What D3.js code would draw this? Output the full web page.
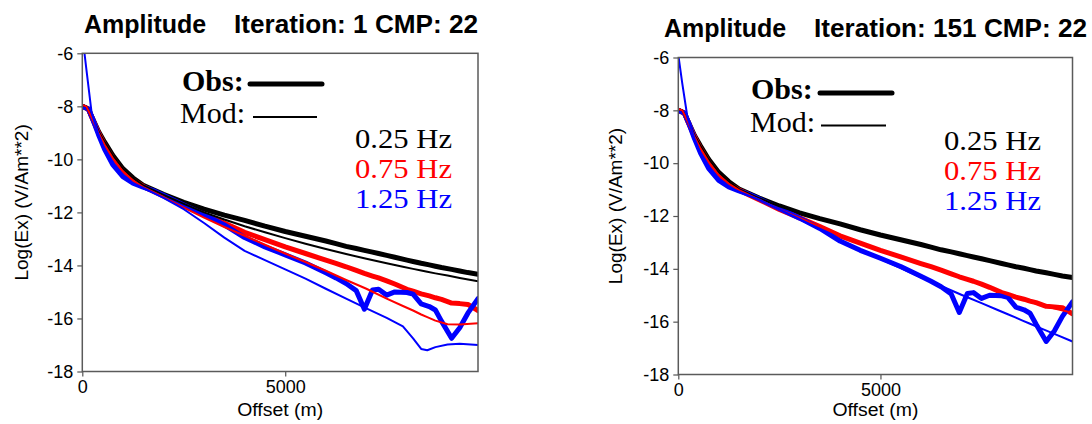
<!DOCTYPE html>
<html><head><meta charset="utf-8">
<script src="https://cdn.jsdelivr.net/npm/d3@7"></script>
<style>html,body{margin:0;padding:0;background:#fff;} svg{display:block;}</style>
</head><body><svg id="c" width="1092" height="424"></svg>
<script>
// ---------- data ----------
const freqLabels = ["0.25 Hz", "0.75 Hz", "1.25 Hz"];
const iterations = [1, 151];
const cmp = 22;
const yTicks = [-6, -8, -10, -12, -14, -16, -18];
const yTickLabels = ["-6", "-8", "-10", "-12", "-14", "-16", "-18"];
const xTicks = [0, 5000];
const xTickLabels = ["0", "5000"];
const xMax = 9750;

// observed (same data in both panels)
const obsOffsets = [0,150,250,400,550,750,1000,1250,1500,1750,2000,2500,3000,3500,4000,4500,5000,5500,6000,6250,6500,6750,6950,7150,7300,7500,7700,8000,8150,8350,8550,8700,8850,9100,9300,9500,9750];
const obs025 = [-8.0,-8.1,-8.45,-8.95,-9.35,-9.85,-10.35,-10.7,-10.98,-11.15,-11.32,-11.62,-11.88,-12.1,-12.3,-12.52,-12.72,-12.9,-13.08,-13.18,-13.28,-13.36,-13.43,-13.5,-13.55,-13.62,-13.69,-13.8,-13.85,-13.92,-13.98,-14.03,-14.08,-14.15,-14.21,-14.27,-14.33];
const obs075 = [-8.0,-8.1,-8.47,-9.0,-9.45,-9.95,-10.45,-10.78,-11.02,-11.2,-11.38,-11.75,-12.07,-12.4,-12.75,-13.03,-13.3,-13.55,-13.8,-13.92,-14.05,-14.19,-14.3,-14.4,-14.47,-14.58,-14.7,-14.9,-14.97,-15.07,-15.15,-15.22,-15.28,-15.42,-15.44,-15.47,-15.7];
const obs125 = [-8.0,-8.1,-8.45,-9.07,-9.62,-10.2,-10.65,-10.9,-11.05,-11.18,-11.35,-11.72,-12.08,-12.47,-12.95,-13.3,-13.6,-13.91,-14.28,-14.47,-14.68,-14.95,-15.65,-14.93,-14.9,-15.12,-15.0,-15.02,-15.08,-15.45,-15.55,-15.68,-16.1,-16.75,-16.35,-15.8,-15.25];

// modelled
const modOffsets = [0,100,230,400,550,750,1000,1250,1500,2000,2500,3000,3500,4000,4500,5000,5500,6000,6500,7000,7500,7900,8150,8350,8500,8700,9000,9300,9750];
const modIt1_025 = [-7.95,-8.0,-8.4,-8.95,-9.35,-9.85,-10.35,-10.7,-10.98,-11.34,-11.68,-12.0,-12.27,-12.52,-12.75,-12.97,-13.18,-13.38,-13.57,-13.75,-13.92,-14.05,-14.13,-14.19,-14.24,-14.3,-14.38,-14.47,-14.6];
const modIt1_075 = [-7.95,-8.0,-8.42,-9.0,-9.45,-9.95,-10.45,-10.8,-11.05,-11.42,-11.82,-12.2,-12.55,-12.88,-13.22,-13.55,-13.87,-14.2,-14.55,-14.88,-15.25,-15.53,-15.7,-15.85,-15.95,-16.08,-16.22,-16.23,-16.18];
const modIt1_125 = [-5.3,-6.6,-8.25,-9.07,-9.62,-10.2,-10.65,-10.9,-11.08,-11.45,-11.88,-12.4,-12.95,-13.45,-13.8,-14.15,-14.5,-14.88,-15.25,-15.62,-15.98,-16.3,-16.75,-17.15,-17.2,-17.08,-16.98,-16.95,-17.0];
const modIt151_025 = [-7.95,-8.0,-8.4,-8.95,-9.35,-9.85,-10.35,-10.7,-10.98,-11.33,-11.63,-11.89,-12.11,-12.31,-12.53,-12.73,-12.91,-13.09,-13.29,-13.45,-13.63,-13.77,-13.85,-13.92,-13.97,-14.03,-14.12,-14.21,-14.34];
const modIt151_075 = [-7.95,-8.0,-8.42,-9.0,-9.45,-9.95,-10.45,-10.78,-11.02,-11.38,-11.75,-12.07,-12.4,-12.74,-13.02,-13.29,-13.55,-13.8,-14.06,-14.33,-14.6,-14.85,-14.98,-15.08,-15.16,-15.26,-15.38,-15.5,-15.66];
const modIt151_125 = [-5.9,-7.0,-8.3,-9.07,-9.62,-10.2,-10.65,-10.92,-11.08,-11.38,-11.75,-12.12,-12.5,-12.93,-13.3,-13.63,-13.97,-14.32,-14.65,-14.98,-15.3,-15.56,-15.72,-15.85,-15.95,-16.08,-16.27,-16.46,-16.75];

// ---------- layout / style ----------
const colors = ["#000000", "#ff0000", "#0000ff"];
const SANS = "'Liberation Sans', Arial, Helvetica, sans-serif";
const SERIF = "'Liberation Serif', 'Times New Roman', Times, serif";

const panelLayout = [
  {left: 82.3, right: 478, top: 53.3, bottom: 371.5,
   titleA: {x: 84, y: 33}, titleB: {x: 234, y: 33, w: 244},
   obs: {tx: 182, ty: 91, x1: 250, x2: 322, ly: 84},
   mod: {tx: 180, ty: 123, x1: 253, x2: 317, ly: 117},
   hz: {x: 355, y0: 148, dy: 30, w: 97}, ylabX: 22},
  {left: 678.3, right: 1072.5, top: 57.5, bottom: 374.5,
   titleA: {x: 664, y: 37}, titleB: {x: 814, y: 37, w: 273},
   obs: {tx: 751, ty: 99, x1: 820, x2: 892, ly: 93},
   mod: {tx: 750, ty: 132, x1: 821, x2: 886, ly: 125.5},
   hz: {x: 944, y0: 150, dy: 30, w: 97}, ylabX: 616}
];
const modSets = [[modIt1_025, modIt1_075, modIt1_125], [modIt151_025, modIt151_075, modIt151_125]];
const obsSet = [obs025, obs075, obs125];

const svg = d3.select("#c");

panelLayout.forEach((L, p) => {
  const x = d3.scaleLinear().domain([0, xMax]).range([L.left, L.right]);
  const y = d3.scaleLinear().domain([-18, -6]).range([L.bottom, L.top]);
  const g = svg.append("g");

  const clipId = "clip" + p;
  svg.append("clipPath").attr("id", clipId).append("rect")
    .attr("x", L.left).attr("y", L.top)
    .attr("width", L.right - L.left).attr("height", L.bottom - L.top);

  // axes
  const ya = g.append("g").attr("transform", `translate(${L.left},0)`)
    .call(d3.axisLeft(y).tickValues(yTicks).tickSize(5).tickPadding(4)
      .tickFormat((d, i) => yTickLabels[i]));
  const xa = g.append("g").attr("transform", `translate(0,${L.bottom})`)
    .call(d3.axisBottom(x).tickValues(xTicks).tickSize(5).tickPadding(4)
      .tickFormat((d, i) => xTickLabels[i]));
  [ya, xa].forEach(a => {
    a.select(".domain").remove();
    a.selectAll("line").attr("stroke", "#555").attr("stroke-width", 1.2);
    a.selectAll("text").attr("font-family", SANS).attr("font-size", 18).attr("fill", "#000");
  });

  // curves
  const lineObs = d3.line().x((d, i) => x(obsOffsets[i])).y(d => y(d));
  const lineMod = d3.line().x((d, i) => x(modOffsets[i])).y(d => y(d));
  const cg = g.append("g").attr("clip-path", `url(#${clipId})`);
  obsSet.forEach((s, k) => {
    cg.append("path").attr("d", lineObs(s)).attr("fill", "none")
      .attr("stroke", colors[k]).attr("stroke-width", 5)
      .attr("stroke-linejoin", "round").attr("stroke-linecap", "round");
  });
  modSets[p].forEach((s, k) => {
    cg.append("path").attr("d", lineMod(s)).attr("fill", "none")
      .attr("stroke", colors[k]).attr("stroke-width", 2)
      .attr("stroke-linejoin", "round");
  });

  // frame
  g.append("rect").attr("x", L.left).attr("y", L.top)
    .attr("width", L.right - L.left).attr("height", L.bottom - L.top)
    .attr("fill", "none").attr("stroke", "#5a5a5a").attr("stroke-width", 1.5);

  // titles
  g.append("text").attr("x", L.titleA.x).attr("y", L.titleA.y)
    .attr("font-family", SANS).attr("font-weight", "bold").attr("font-size", 25)
    .text("Amplitude");
  g.append("text").attr("x", L.titleB.x).attr("y", L.titleB.y)
    .attr("font-family", SANS).attr("font-weight", "bold").attr("font-size", 25)
    .attr("textLength", L.titleB.w).attr("lengthAdjust", "spacingAndGlyphs")
    .text(`Iteration: ${iterations[p]} CMP: ${cmp}`);

  // axis labels
  g.append("text").attr("x", (L.left + L.right) / 2).attr("y", 416)
    .attr("text-anchor", "middle").attr("font-family", SANS).attr("font-size", 18)
    .attr("textLength", 86).attr("lengthAdjust", "spacingAndGlyphs")
    .text("Offset (m)");
  g.append("text")
    .attr("transform", `translate(${L.ylabX + 6},${(L.top + L.bottom) / 2 - 10}) rotate(-90)`)
    .attr("text-anchor", "middle").attr("font-family", SANS).attr("font-size", 19)
    .text("Log(Ex) (V/Am**2)");

  // legend
  g.append("text").attr("x", L.obs.tx).attr("y", L.obs.ty)
    .attr("font-family", SERIF).attr("font-weight", "bold").attr("font-size", 30).text("Obs:");
  g.append("line").attr("x1", L.obs.x1).attr("x2", L.obs.x2).attr("y1", L.obs.ly).attr("y2", L.obs.ly)
    .attr("stroke", "#000").attr("stroke-width", 5).attr("stroke-linecap", "round");
  g.append("text").attr("x", L.mod.tx).attr("y", L.mod.ty)
    .attr("font-family", SERIF).attr("font-size", 30).text("Mod:");
  g.append("line").attr("x1", L.mod.x1).attr("x2", L.mod.x2).attr("y1", L.mod.ly).attr("y2", L.mod.ly)
    .attr("stroke", "#000").attr("stroke-width", 2);
  freqLabels.forEach((f, k) => {
    g.append("text").attr("x", L.hz.x).attr("y", L.hz.y0 + k * L.hz.dy)
      .attr("font-family", SERIF).attr("font-size", 27).attr("fill", colors[k])
      .attr("textLength", L.hz.w).attr("lengthAdjust", "spacingAndGlyphs")
      .text(f);
  });
});
</script></body></html>
